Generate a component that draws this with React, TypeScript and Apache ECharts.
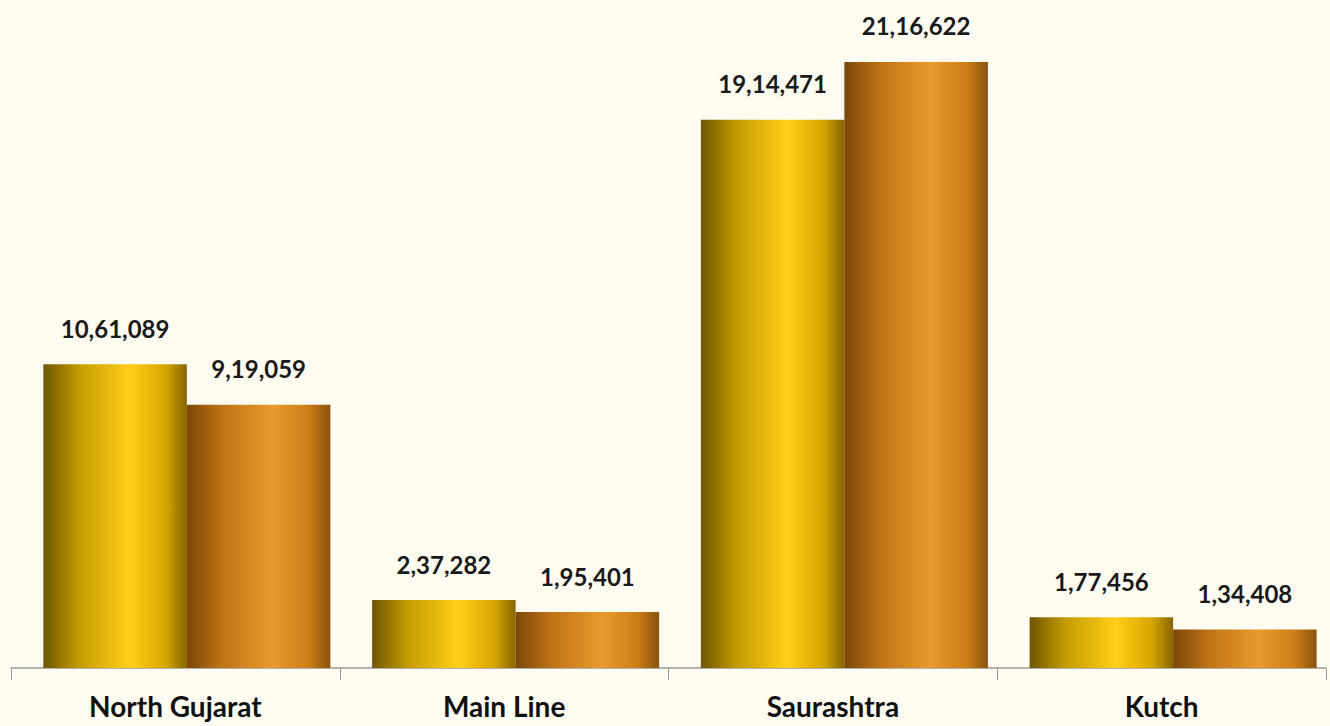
import React, { useEffect, useRef } from "react";
import * as echarts from "echarts";

const categories = ["North Gujarat", "Main Line", "Saurashtra", "Kutch"];
const seriesA = [1061089, 237282, 1914471, 177456];
const seriesB = [919059, 195401, 2116622, 134408];

function indianFormat(v: number): string {
  const s = String(Math.round(v));
  if (s.length <= 3) return s;
  const last3 = s.slice(-3);
  let rest = s.slice(0, -3);
  const parts: string[] = [];
  while (rest.length > 2) {
    parts.unshift(rest.slice(-2));
    rest = rest.slice(0, -2);
  }
  if (rest.length) parts.unshift(rest);
  return parts.join(",") + "," + last3;
}

const goldGrad = new echarts.graphic.LinearGradient(0, 0, 1, 0, [
  { offset: 0, color: "#6e5500" },
  { offset: 0.25, color: "#c49c00" },
  { offset: 0.6, color: "#ffcf1a" },
  { offset: 0.85, color: "#d6a600" },
  { offset: 1, color: "#876600" },
]);
const orangeGrad = new echarts.graphic.LinearGradient(0, 0, 1, 0, [
  { offset: 0, color: "#7c4608" },
  { offset: 0.25, color: "#c07416" },
  { offset: 0.6, color: "#e99a2c" },
  { offset: 0.85, color: "#cc7d16" },
  { offset: 1, color: "#88520c" },
]);

const labelStyle = {
  show: true,
  position: "top" as const,
  distance: 24,
  fontFamily: "Lato",
  fontWeight: "bold" as const,
  fontSize: 24,
  color: "#1a1a1a",
  formatter: (p: any) => indianFormat(p.value),
};

export default function App() {
  const ref = useRef<HTMLDivElement>(null);
  useEffect(() => {
    if (!ref.current) return;
    const chart = echarts.init(ref.current, null, { renderer: "svg" });
    chart.setOption({
      animation: false,
      backgroundColor: "#fefcf1",
      grid: { left: 11, right: 4, top: 38, bottom: 58 },
      xAxis: {
        type: "category",
        data: categories,
        axisLine: { show: true, lineStyle: { color: "#9a9a9a", width: 1.5 } },
        axisTick: { show: true, length: 12, lineStyle: { color: "#9a9a9a" } },
        axisLabel: {
          fontFamily: "Lato",
          fontWeight: "bold",
          fontSize: 28,
          color: "#111",
          margin: 24,
        },
      },
      yAxis: {
        type: "value",
        min: 0,
        max: 2200000,
        show: false,
        splitLine: { show: false },
      },
      series: [
        {
          name: "spacer",
          type: "bar",
          data: [null, null, null, null],
          barWidth: 23,
          barGap: 0,
          silent: true,
          itemStyle: { color: "transparent" },
        },
        {
          name: "A",
          type: "bar",
          data: seriesA,
          barWidth: 143.5,
          barGap: 0,
          itemStyle: { color: goldGrad },
          label: labelStyle,
        },
        {
          name: "B",
          type: "bar",
          data: seriesB,
          barWidth: 143.5,
          barGap: 0,
          itemStyle: { color: orangeGrad },
          label: labelStyle,
        },
      ],
    });
    return () => chart.dispose();
  }, []);
  return (
    <div
      ref={ref}
      style={{ position: "fixed", left: 0, top: 0, width: 1330, height: 726 }}
    />
  );
}
